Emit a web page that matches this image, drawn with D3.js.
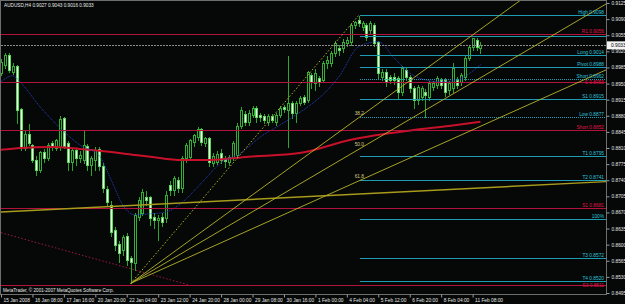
<!DOCTYPE html>
<html>
<head>
<meta charset="utf-8">
<script src="https://cdn.jsdelivr.net/npm/d3@7/dist/d3.min.js"></script>
<style>
  html, body { margin: 0; padding: 0; background: #000; }
  svg { display: block; }
  text { font-family: "Liberation Sans", Arial, sans-serif; }
</style>
</head>
<body>
<div id="chart"></div>
<script>
// AUDUSD H4 candles, one entry per bar (15 Jan 2008 .. 11 Feb 2008)
const opens = [0.8973,0.8991,0.9012,0.8976,0.8989,0.8895,0.8810,0.8841,0.8817,0.8784,
  0.8762,0.8802,0.8789,0.8821,0.8810,0.8812,0.8876,0.8821,0.8780,0.8806,
  0.8789,0.8784,0.8815,0.8773,0.8784,0.8808,0.8771,0.8721,0.8686,0.8632,
  0.8602,0.8588,0.8619,0.8571,0.8560,0.8660,0.8669,0.8704,0.8704,0.8660,
  0.8654,0.8660,0.8658,0.8730,0.8719,0.8741,0.8723,0.8789,0.8791,0.8823,
  0.8834,0.8852,0.8821,0.8832,0.8778,0.8780,0.8799,0.8789,0.8780,0.8789,
  0.8795,0.8858,0.8884,0.8867,0.8882,0.8897,0.8882,0.8880,0.8867,0.8880,
  0.8867,0.8882,0.8899,0.8893,0.8908,0.8886,0.8908,0.8921,0.8915,0.8969,
  0.8952,0.8962,0.8958,0.8995,0.8995,0.9017,0.9028,0.9028,0.9039,0.9041,
  0.9078,0.9089,0.9073,0.9078,0.9067,0.9078,0.9041,0.8965,0.8975,0.8965,
  0.8965,0.8962,0.8932,0.8980,0.8965,0.8941,0.8915,0.8921,0.8932,0.8921,
  0.8943,0.8947,0.8958,0.8958,0.8936,0.8941,0.8958,0.8954,0.8965,0.9006,
  0.9030,0.9045,0.9027];
const highs = [0.9006,0.9019,0.9019,0.8997,0.8993,0.8899,0.8849,0.8865,0.8821,0.8795,
  0.8806,0.8810,0.8823,0.8828,0.8832,0.8882,0.8880,0.8828,0.8810,0.8810,
  0.8806,0.8849,0.8821,0.8795,0.8815,0.8815,0.8780,0.8730,0.8697,0.8641,
  0.8610,0.8623,0.8628,0.8578,0.8671,0.8706,0.8723,0.8719,0.8708,0.8671,
  0.8667,0.8671,0.8719,0.8741,0.8752,0.8749,0.8795,0.8823,0.8832,0.8843,
  0.8858,0.8856,0.8836,0.8836,0.8802,0.8806,0.8810,0.8795,0.8797,0.8828,
  0.8867,0.8902,0.8893,0.8895,0.8904,0.8904,0.8889,0.8886,0.8886,0.8886,
  0.8889,0.8904,0.8906,0.9012,0.8915,0.8915,0.8925,0.8928,0.8980,0.8975,
  0.8984,0.8969,0.9002,0.9012,0.9023,0.9045,0.9036,0.9049,0.9054,0.9084,
  0.9089,0.9098,0.9089,0.9084,0.9089,0.9084,0.9045,0.8984,0.8984,0.8971,
  0.8975,0.8969,0.8991,0.8989,0.8971,0.8947,0.8949,0.8947,0.8941,0.8958,
  0.8958,0.8969,0.8965,0.8965,0.8958,0.8997,0.8967,0.8975,0.9012,0.9036,
  0.9052,0.9052,0.9043];
const lows = [0.8969,0.8984,0.8976,0.8971,0.8865,0.8806,0.8806,0.8817,0.8780,0.8752,
  0.8758,0.8780,0.8784,0.8806,0.8806,0.8806,0.8810,0.8762,0.8762,0.8773,
  0.8780,0.8778,0.8762,0.8752,0.8762,0.8762,0.8715,0.8686,0.8619,0.8588,
  0.8562,0.8578,0.8556,0.8516,0.8545,0.8654,0.8665,0.8686,0.8643,0.8636,
  0.8610,0.8641,0.8649,0.8708,0.8708,0.8715,0.8715,0.8780,0.8784,0.8815,
  0.8828,0.8817,0.8815,0.8771,0.8771,0.8776,0.8778,0.8769,0.8773,0.8784,
  0.8789,0.8854,0.8860,0.8860,0.8878,0.8867,0.8869,0.8865,0.8860,0.8867,
  0.8860,0.8878,0.8889,0.8812,0.8876,0.8867,0.8904,0.8906,0.8910,0.8941,
  0.8936,0.8945,0.8954,0.8984,0.8989,0.9010,0.9012,0.9019,0.9032,0.9034,
  0.9071,0.9076,0.9067,0.9045,0.9060,0.9032,0.8962,0.8958,0.8945,0.8952,
  0.8949,0.8919,0.8925,0.8958,0.8932,0.8897,0.8906,0.8915,0.8878,0.8915,
  0.8936,0.8941,0.8941,0.8923,0.8928,0.8932,0.8941,0.8947,0.8958,0.9002,
  0.9023,0.9023,0.9016];
const closes = [0.8997,0.9012,0.8980,0.8989,0.8893,0.8812,0.8841,0.8821,0.8784,0.8762,
  0.8802,0.8789,0.8817,0.8812,0.8828,0.8873,0.8815,0.8780,0.8806,0.8789,
  0.8795,0.8817,0.8773,0.8789,0.8806,0.8771,0.8723,0.8693,0.8628,0.8599,
  0.8582,0.8617,0.8567,0.8562,0.8665,0.8697,0.8715,0.8697,0.8658,0.8654,
  0.8658,0.8649,0.8708,0.8719,0.8745,0.8723,0.8789,0.8817,0.8828,0.8839,
  0.8852,0.8823,0.8832,0.8780,0.8793,0.8797,0.8784,0.8782,0.8791,0.8821,
  0.8858,0.8893,0.8867,0.8886,0.8897,0.8878,0.8878,0.8871,0.8880,0.8871,
  0.8882,0.8897,0.8895,0.8908,0.8886,0.8908,0.8919,0.8910,0.8975,0.8954,
  0.8973,0.8954,0.8995,0.9002,0.9017,0.9039,0.9023,0.9041,0.9045,0.9078,
  0.9084,0.9082,0.9082,0.9052,0.9082,0.9039,0.8973,0.8975,0.8954,0.8958,
  0.8958,0.8932,0.8984,0.8965,0.8941,0.8915,0.8943,0.8941,0.8925,0.8952,
  0.8952,0.8962,0.8947,0.8932,0.8952,0.8984,0.8947,0.8969,0.9006,0.9030,
  0.9049,0.9030,0.9033];

// time axis: a label every 8 bars
const timeLabels = ["15 Jan 2008", "16 Jan 08:00", "17 Jan 16:00", "20 Jan 20:00", "22 Jan 04:00",
  "23 Jan 12:00", "24 Jan 20:00", "28 Jan 00:00", "29 Jan 08:00", "30 Jan 16:00", "1 Feb 00:00",
  "4 Feb 04:00", "5 Feb 12:00", "6 Feb 20:00", "8 Feb 04:00", "11 Feb 08:00"];
const timeLabelBars = [0, 8, 16, 24, 32, 40, 48, 56, 64, 72, 80, 88, 96, 104, 112, 120];

const priceTicks = [0.9125, 0.9090, 0.9055, 0.9020, 0.8985, 0.8950, 0.8915, 0.8880, 0.8845, 0.8810,
  0.8775, 0.8740, 0.8705, 0.8670, 0.8635, 0.8600, 0.8565, 0.8530, 0.8495];
const lastPrice = 0.9033;

// cyan target levels (drawn from the swing high bar to the right edge)
const targetPrices = [0.9098, 0.9054, 0.9012, 0.8986, 0.8960, 0.8917, 0.8878, 0.8793, 0.8741, 0.8656, 0.8571, 0.8521];
const targetLabels = ["High 0.9098", "", "Long 0.9014", "Pivot 0.8988", "Short 0.8962", "S1 0.8915",
  "Low 0.8877", "T1 0.8795", "T2 0.8741", "100%", "T3 0.8572", "T4 0.8520"];
const targetStartBar = 91;

// red pivot levels (full width)
const pivotPrices = [0.9058, 0.8954, 0.8849, 0.8680, 0.8512];
const pivotLabels = ["R1 0.9056", "S 0.8953", "Short 0.8852", "S1 0.8681", "S3 0.8511"];

// fibonacci fan from the swing low to the swing high
const fanLowBar = 33, fanHighBar = 91;
const fanRatios = [0.382, 0.5, 0.618];
const fanLabels = ["38.2", "50.0", "61.8"];

// other trend lines: [bar, price]
const oliveLine = [[0, 0.8671], [154, 0.8737]];
const redDotLine = [[0, 0.8626], [48, 0.8512]];

// moving averages: [bar, price]
const blueMA = [[0, 0.8954], [3, 0.8967], [5, 0.8952], [10, 0.8899], [15, 0.8854], [20, 0.8817],
  [25, 0.8793], [28, 0.8741], [31, 0.8686], [34, 0.8665], [38, 0.8667], [42, 0.8671], [46, 0.8691],
  [51, 0.8734], [56, 0.8778], [61, 0.8799], [66, 0.8834], [71, 0.8860], [78, 0.8899], [81, 0.8919],
  [86, 0.8965], [91, 0.9030], [96, 0.9041], [100, 0.9006], [104, 0.8973], [108, 0.8958],
  [112, 0.8954], [116, 0.8958], [122, 0.8991]];
const redMA = [[0, 0.8806], [5, 0.8810], [13, 0.8812], [20, 0.8808], [25, 0.8804], [34, 0.8795],
  [38, 0.8791], [46, 0.8784], [53, 0.8784], [63, 0.8791], [76, 0.8799], [89, 0.8828], [105, 0.8849],
  [114, 0.8858], [122, 0.8867]];

function drawChart() {
  const width = 625, height = 304;
  const plot = { left: 1, right: 606, top: 1, bottom: 294 };

  const svg = d3.select("#chart").append("svg")
    .attr("width", width).attr("height", height);

  svg.append("rect").attr("width", width).attr("height", height).attr("fill", "#050807");

  // scales
  const xBar = d3.scaleLinear().domain([0, 120]).range([1, 472.6]);
  const yPrice = d3.scaleLinear().domain([0.8495, 0.9125]).range([293, 3]);
  const px = i => Math.round(xBar(i)) + 0.5;
  const py = p => Math.round(yPrice(p)) + 0.5;

  svg.append("clipPath").attr("id", "plotClip")
    .append("rect").attr("x", plot.left).attr("y", plot.top)
    .attr("width", plot.right - plot.left).attr("height", plot.bottom - plot.top);

  const g = svg.append("g").attr("clip-path", "url(#plotClip)");

  // candles
  const bars = d3.range(opens.length);
  const candle = g.selectAll(".candle").data(bars).enter().append("g")
    .attr("class", "candle").attr("shape-rendering", "crispEdges");
  candle.append("line")
    .attr("x1", px).attr("x2", px)
    .attr("y1", i => py(highs[i])).attr("y2", i => py(lows[i]))
    .attr("stroke", "#2fa52f");
  candle.append("rect")
    .attr("x", i => px(i) - 1).attr("width", 2)
    .attr("y", i => py(Math.max(opens[i], closes[i])))
    .attr("height", i => Math.max(0, py(Math.min(opens[i], closes[i])) - py(Math.max(opens[i], closes[i]))))
    .attr("fill", i => closes[i] < opens[i] ? "#f2fff0" : "#050807")
    .attr("stroke", i => closes[i] < opens[i] ? "#59d859" : "#33b033");

  // moving averages
  const maLine = d3.line().x(d => xBar(d[0])).y(d => yPrice(d[1])).curve(d3.curveMonotoneX);
  g.append("path").datum(redMA).attr("d", maLine)
    .attr("fill", "none").attr("stroke", "#c8102a").attr("stroke-width", 2);
  g.append("path").datum(blueMA).attr("d", maLine)
    .attr("fill", "none").attr("stroke", "#2a40c8").attr("stroke-width", 1)
    .attr("stroke-dasharray", "1,1");

  // red pivot levels
  g.selectAll(".pivot").data(pivotPrices).enter().append("line")
    .attr("x1", plot.left).attr("x2", plot.right)
    .attr("y1", py).attr("y2", py)
    .attr("stroke", "#b3123d").attr("shape-rendering", "crispEdges");

  // cyan target levels
  const dotted = ["Short 0.8962", "Low 0.8877"];
  g.selectAll(".target").data(targetPrices).enter().append("line")
    .attr("x1", px(targetStartBar)).attr("x2", plot.right)
    .attr("y1", py).attr("y2", py)
    .attr("stroke", "#1e9cb4").attr("shape-rendering", "crispEdges")
    .attr("stroke-dasharray", (d, i) => dotted.includes(targetLabels[i]) ? "1,1" : null);

  // current price line
  g.append("line")
    .attr("x1", plot.left).attr("x2", plot.right)
    .attr("y1", py(lastPrice)).attr("y2", py(lastPrice))
    .attr("stroke", "#8c8c8c").attr("stroke-dasharray", "2,1")
    .attr("shape-rendering", "crispEdges");

  // olive trend line and red dotted line
  g.append("line")
    .attr("x1", xBar(oliveLine[0][0])).attr("y1", yPrice(oliveLine[0][1]))
    .attr("x2", xBar(oliveLine[1][0])).attr("y2", yPrice(oliveLine[1][1]))
    .attr("stroke", "#a89a1c").attr("stroke-width", 1.4);
  g.append("line")
    .attr("x1", xBar(redDotLine[0][0])).attr("y1", yPrice(redDotLine[0][1]))
    .attr("x2", xBar(redDotLine[1][0])).attr("y2", yPrice(redDotLine[1][1]))
    .attr("stroke", "#a01840").attr("stroke-dasharray", "1.5,2");

  // fibonacci fan
  const lowP = lows[fanLowBar], highP = highs[fanHighBar];
  const x0 = xBar(fanLowBar), y0 = yPrice(lowP);
  const xEnd = xBar(160);
  const fanEnd = p => {
    const slope = (yPrice(p) - y0) / (xBar(fanHighBar) - x0);
    return y0 + slope * (xEnd - x0);
  };
  g.append("line")
    .attr("x1", x0).attr("y1", y0).attr("x2", xBar(fanHighBar)).attr("y2", yPrice(highP))
    .attr("stroke", "#b8b42a").attr("stroke-dasharray", "1.5,2");
  fanRatios.forEach((r, k) => {
    const lvl = highP - r * (highP - lowP);
    g.append("line")
      .attr("x1", x0).attr("y1", y0).attr("x2", xEnd).attr("y2", fanEnd(lvl))
      .attr("stroke", "#b8b42a").attr("stroke-width", 0.9);
    g.append("text")
      .attr("x", xBar(fanHighBar) - 4).attr("y", yPrice(lvl) - 3)
      .attr("font-size", 4.8).attr("fill", "#d8cc80")
      .text(fanLabels[k]);
  });

  // level labels
  const labelFont = 4.8;
  targetPrices.forEach((p, i) => {
    if (!targetLabels[i]) return;
    svg.append("text").attr("x", 604).attr("y", yPrice(p) - 1)
      .attr("text-anchor", "end").attr("font-size", labelFont).attr("fill", "#2ec4dc")
      .text(targetLabels[i]);
  });
  // red labels sit just on their line; the one right below "Short" drops under it
  pivotPrices.forEach((p, i) => {
    const crowded = targetPrices.some(t => t > p && yPrice(p) - yPrice(t) < 6);
    svg.append("text").attr("x", 604).attr("y", yPrice(p) + (crowded ? 2.2 : -1))
      .attr("text-anchor", "end").attr("font-size", labelFont).attr("fill", "#e0144a")
      .text(pivotLabels[i]);
  });

  // frame
  svg.append("rect")
    .attr("x", plot.left - 0.5).attr("y", plot.top - 0.5)
    .attr("width", plot.right - plot.left + 1).attr("height", plot.bottom - plot.top + 1)
    .attr("fill", "none").attr("stroke", "#6e6e6e").attr("shape-rendering", "crispEdges");

  // right price axis
  const yAxis = svg.append("g")
    .attr("transform", `translate(${plot.right + 0.5},0)`)
    .call(d3.axisRight(yPrice).tickValues(priceTicks).tickSize(3).tickSizeOuter(0)
      .tickFormat(d3.format(".4f")));
  yAxis.select(".domain").remove();
  yAxis.selectAll("line").attr("stroke", "#9a9a9a");
  yAxis.selectAll("text").attr("x", 5).attr("fill", "#e6e6e6")
    .attr("font-size", labelFont).attr("font-family", "Liberation Sans, Arial, sans-serif");

  // last price box
  svg.append("rect").attr("x", plot.right + 1).attr("y", yPrice(lastPrice) - 4)
    .attr("width", 19).attr("height", 8).attr("fill", "#f4f4f4");
  svg.append("text").attr("x", plot.right + 5).attr("y", yPrice(lastPrice) + 1.7)
    .attr("font-size", labelFont).attr("fill", "#000").text(lastPrice.toFixed(4));

  // bottom time axis
  const xAxis = svg.append("g")
    .attr("transform", `translate(0,${plot.bottom + 0.5})`)
    .call(d3.axisBottom(xBar).tickValues(timeLabelBars).tickSize(3).tickSizeOuter(0)
      .tickFormat((d, i) => timeLabels[i]));
  xAxis.select(".domain").remove();
  xAxis.selectAll("line").attr("stroke", "#9a9a9a");
  xAxis.selectAll("text").attr("text-anchor", "start").attr("x", 2).attr("y", 4)
    .attr("fill", "#e6e6e6").attr("font-size", labelFont)
    .attr("font-family", "Liberation Sans, Arial, sans-serif");

  // title and copyright
  svg.append("text").attr("x", 4).attr("y", 7).attr("font-size", 4.7).attr("fill", "#e8e8e8")
    .text("AUDUSD,H4  0.9027 0.9043 0.9016 0.9033");
  svg.append("text").attr("x", 3).attr("y", 292).attr("font-size", 4.6).attr("fill", "#e8e8e8")
    .text("MetaTrader, \u00a9 2001-2007 MetaQuotes Software Corp.");
}

document.addEventListener("DOMContentLoaded", drawChart);
</script>
</body>
</html>
